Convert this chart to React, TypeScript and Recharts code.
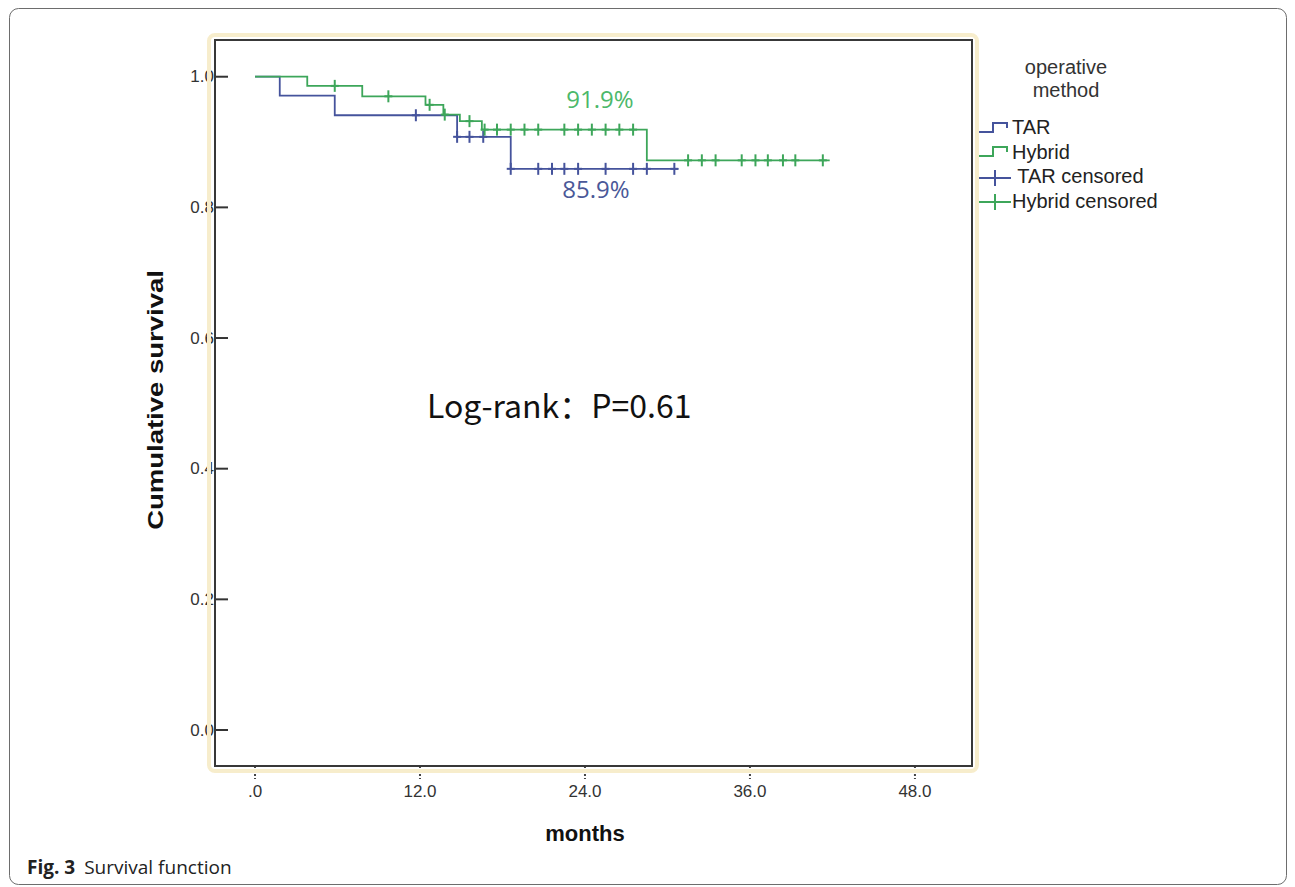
import React from 'react';
import { ComposedChart, Line, Scatter, XAxis, YAxis } from 'recharts';

// Kaplan-Meier steps (months, cumulative survival)
const TAR_TIMES = [0, 1.8, 5.8, 14.7, 18.6, 30.8];
const TAR_SURV = [1.0, 0.971, 0.941, 0.908, 0.859, 0.859];

const HYBRID_TIMES = [0, 3.8, 7.8, 12.4, 13.7, 14.9, 16.5, 28.5, 41.8];
const HYBRID_SURV = [1.0, 0.986, 0.97, 0.957, 0.942, 0.932, 0.919, 0.872, 0.872];

// censored cases
const TAR_CENS_TIMES = [11.7, 14.7, 15.6, 16.6, 18.6, 20.6, 21.6, 22.5, 23.5, 25.5, 27.5, 28.5, 30.5];
const TAR_CENS_SURV = [0.941, 0.908, 0.908, 0.908, 0.859, 0.859, 0.859, 0.859, 0.859, 0.859, 0.859, 0.859, 0.859];

const HYBRID_CENS_TIMES = [
  5.8, 9.7, 12.7, 13.8, 15.6, 16.7, 17.6, 18.6, 19.6, 20.6, 22.5, 23.5, 24.5, 25.5, 26.5, 27.5,
  31.5, 32.5, 33.5, 35.4, 36.4, 37.3, 38.4, 39.3, 41.3,
];
const HYBRID_CENS_SURV = [
  0.986, 0.97, 0.957, 0.942, 0.932, 0.919, 0.919, 0.919, 0.919, 0.919, 0.919, 0.919, 0.919, 0.919, 0.919, 0.919,
  0.872, 0.872, 0.872, 0.872, 0.872, 0.872, 0.872, 0.872, 0.872,
];

const X_TICKS = [0, 12, 24, 36, 48];
const Y_TICKS = [0, 0.2, 0.4, 0.6, 0.8, 1.0];

const LEGEND_ITEMS = ['TAR', 'Hybrid', ' TAR censored', 'Hybrid censored'];

const BLUE = '#45539c';
const GREEN = '#3da65a';
const AXIS_FONT = '"Liberation Sans", Arial, sans-serif';

const zip = (t: number[], s: number[]) => t.map((v, i) => ({ t: v, s: s[i] }));

const tarData = zip(TAR_TIMES, TAR_SURV);
const hybridData = zip(HYBRID_TIMES, HYBRID_SURV);
const tarCens = zip(TAR_CENS_TIMES, TAR_CENS_SURV);
const hybridCens = zip(HYBRID_CENS_TIMES, HYBRID_CENS_SURV);

const plusShape = (color: string) => (props: any) => {
  const { cx, cy } = props;
  if (cx == null || cy == null) return <g />;
  return (
    <g stroke={color} strokeWidth={2}>
      <line x1={cx} y1={cy - 6} x2={cx} y2={cy + 6} />
      <line x1={cx - 4} y1={cy} x2={cx + 4} y2={cy} />
    </g>
  );
};

const YTick = (props: any) => {
  const { x, y, payload } = props;
  return (
    <g>
      <line x1={x} y1={y} x2={x + 13} y2={y} stroke="#333" strokeWidth={2} />
      <text x={x - 1} y={y} textAnchor="end" dominantBaseline="central" fontSize={17} fontFamily={AXIS_FONT} fill="#333">
        {payload.value.toFixed(1)}
      </text>
    </g>
  );
};

const XTick = (props: any) => {
  const { x, y, payload } = props;
  const label = payload.value === 0 ? '.0' : payload.value.toFixed(1);
  return (
    <g>
      <line x1={x} y1={y} x2={x} y2={y + 13} stroke="#444" strokeWidth={2} strokeDasharray="2 2" />
      <text x={x} y={y + 31} textAnchor="middle" fontSize={17} fontFamily={AXIS_FONT} fill="#333">
        {label}
      </text>
    </g>
  );
};

function Overlay() {
  return (
    <svg width={1295} height={887} style={{ position: 'absolute', left: 0, top: 0, pointerEvents: 'none' }}>
      {/* figure border */}
      <rect x={9.5} y={8.5} width={1277} height={876} rx={9} fill="none" stroke="#6d6d6d" strokeWidth={1} />
      {/* selection glow and plot frame */}
      <rect x={209} y={35} width={768} height={736} rx={6} fill="none" stroke="#f7edcc" strokeWidth={4} />
      <rect x={215} y={40} width={757} height={726} fill="none" stroke="#383838" strokeWidth={2} />

      {/* axis titles */}
      <text
        transform="translate(163,400) rotate(-90) scale(1.25,1)"
        textAnchor="middle"
        fontSize={22}
        fontWeight="bold"
        fontFamily={AXIS_FONT}
        fill="#111"
      >
        Cumulative survival
      </text>
      <text x={585} y={841} textAnchor="middle" fontSize={22} fontWeight="bold" fontFamily={AXIS_FONT} fill="#111">
        months
      </text>

      {/* annotations */}
      <text x={600} y={108} textAnchor="middle" fontSize={24} fontFamily='"Open Sans", sans-serif' fill="#4cb86a">
        91.9%
      </text>
      <text x={596} y={198} textAnchor="middle" fontSize={24} fontFamily='"Open Sans", sans-serif' fill="#4a5898">
        85.9%
      </text>
      <text x={427} y={418} fontSize={32} fontFamily='"Noto Sans CJK SC", "Noto Sans", sans-serif' fill="#111">
        Log-rank：P=0.61
      </text>

      {/* legend */}
      <text x={1066} y={74} textAnchor="middle" fontSize={20} fontFamily={AXIS_FONT} fill="#333">
        operative
      </text>
      <text x={1066} y={97} textAnchor="middle" fontSize={20} fontFamily={AXIS_FONT} fill="#333">
        method
      </text>
      <path d="M979,132 H993 V123 H1007 V128" fill="none" stroke={BLUE} strokeWidth={2} />
      <path d="M979,156 H993 V147 H1007 V152" fill="none" stroke={GREEN} strokeWidth={2} />
      <g stroke={BLUE} strokeWidth={2}>
        <line x1={979} y1={178} x2={1011} y2={178} />
        <line x1={995} y1={170} x2={995} y2={186} />
      </g>
      <g stroke={GREEN} strokeWidth={2}>
        <line x1={979} y1={202} x2={1011} y2={202} />
        <line x1={995} y1={194} x2={995} y2={210} />
      </g>
      {LEGEND_ITEMS.map((label, i) => (
        <text key={label} x={1012} y={134 + i * 24.5} fontSize={20} fontFamily={AXIS_FONT} fill="#222" style={{ whiteSpace: 'pre' }}>
          {label}
        </text>
      ))}

      {/* caption */}
      <text x={27} y={874} fontSize={19} fontFamily='"Open Sans", "Noto Sans", sans-serif' fill="#222">
        <tspan fontWeight="bold">Fig. 3</tspan>
        <tspan dx={9}>Survival function</tspan>
      </text>
    </svg>
  );
}

export default function App() {
  return (
    <div style={{ position: 'absolute', left: 0, top: 0, width: 1295, height: 887, background: '#fff' }}>
      <ComposedChart width={1295} height={887} margin={{ top: 40, right: 323, bottom: 91, left: 155 }}>
        <XAxis
          type="number"
          dataKey="t"
          domain={[-2.91, 52.15]}
          allowDataOverflow
          ticks={X_TICKS}
          tick={<XTick />}
          tickSize={0}
          tickMargin={0}
          axisLine={false}
          tickLine={false}
          height={30}
        />
        <YAxis
          type="number"
          domain={[-0.0551, 1.0562]}
          allowDataOverflow
          ticks={Y_TICKS}
          tick={<YTick />}
          tickSize={0}
          tickMargin={0}
          axisLine={false}
          tickLine={false}
          width={60}
        />
        <Line data={tarData} dataKey="s" type="stepAfter" stroke={BLUE} strokeWidth={1.8} dot={false} isAnimationActive={false} />
        <Line data={hybridData} dataKey="s" type="stepAfter" stroke={GREEN} strokeWidth={1.8} dot={false} isAnimationActive={false} />
        <Scatter data={tarCens} dataKey="s" shape={plusShape(BLUE)} isAnimationActive={false} />
        <Scatter data={hybridCens} dataKey="s" shape={plusShape(GREEN)} isAnimationActive={false} />
      </ComposedChart>
      <Overlay />
    </div>
  );
}
